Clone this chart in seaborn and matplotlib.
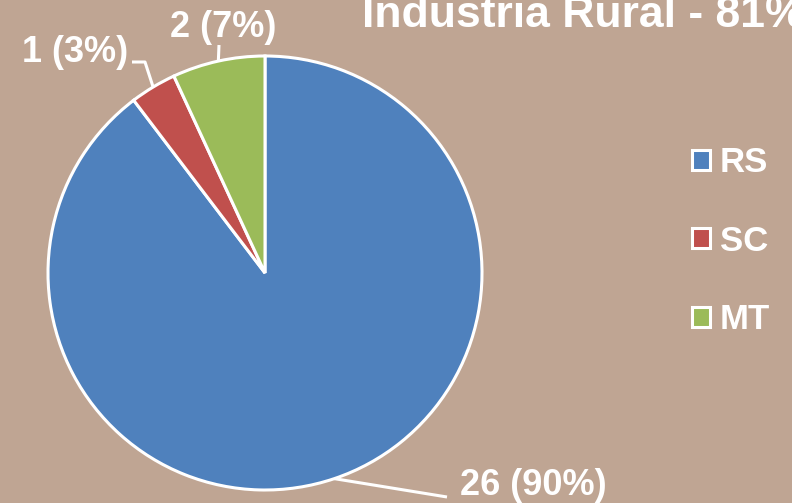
import matplotlib
matplotlib.use('Agg')
import matplotlib.pyplot as plt
import seaborn as sns
import numpy as np

states = ['RS', 'SC', 'MT']
counts = [26, 1, 2]
colors = ['#4F81BD', '#C0504D', '#9BBB59']
title = 'Industria Rural - 81%'
bg = '#BFA593'

sns.set_style('white')
plt.rcParams['font.family'] = ['Liberation Sans', 'DejaVu Sans']
plt.rcParams['font.weight'] = 'bold'

W, H = 792, 503
fig = plt.figure(figsize=(W / 100, H / 100), dpi=100)
fig.patch.set_facecolor(bg)
ax = fig.add_axes([0, 0, 1, 1])
ax.set_facecolor(bg)

# axes in pixel units (y up) so layout is easy to place
cx, cy, r = 265, H - 273, 217
wedges, _ = ax.pie(counts, colors=colors, startangle=90, counterclock=False,
                   center=(cx, cy), radius=r,
                   wedgeprops=dict(edgecolor='white', linewidth=2.2))
ax.set_xlim(0, W)
ax.set_ylim(0, H)
ax.set_aspect('equal')
ax.axis('off')

# leader line path (after edge point), text position, alignment
label_layout = [
    ([(447, H - 497)], (460, H - 495), 'left'),
    ([(145, H - 62), (132, H - 62)], (128, H - 62), 'right'),
    ([(219, H - 45)], (223, H - 37), 'center'),
]

total = sum(counts)
for w, c, (path, tpos, ha) in zip(wedges, counts, label_layout):
    ang = np.deg2rad((w.theta1 + w.theta2) / 2)
    ex, ey = cx + r * np.cos(ang), cy + r * np.sin(ang)
    xs = [ex] + [p[0] for p in path]
    ys = [ey] + [p[1] for p in path]
    ax.plot(xs, ys, color='white', lw=2.2, solid_capstyle='butt')
    ax.text(tpos[0], tpos[1], f'{c} ({round(100 * c / total)}%)', color='white',
            fontsize=26, fontweight='bold', ha=ha, va='baseline')

fig.text(362 / W, 1 - 27 / H, title, fontsize=32, color='white',
         fontweight='bold', ha='left', va='baseline')

leg = ax.legend(wedges, states, loc='center left',
                bbox_to_anchor=(692 / W, 1 - 241 / H), bbox_transform=fig.transFigure,
                frameon=False, fontsize=25, handlelength=0.52, handleheight=0.52,
                handletextpad=0.29, labelspacing=1.31, borderpad=0, borderaxespad=0)
for t in leg.get_texts():
    t.set_color('white')
    t.set_fontweight('bold')

fig.savefig('out.png', dpi=100, facecolor=bg)
